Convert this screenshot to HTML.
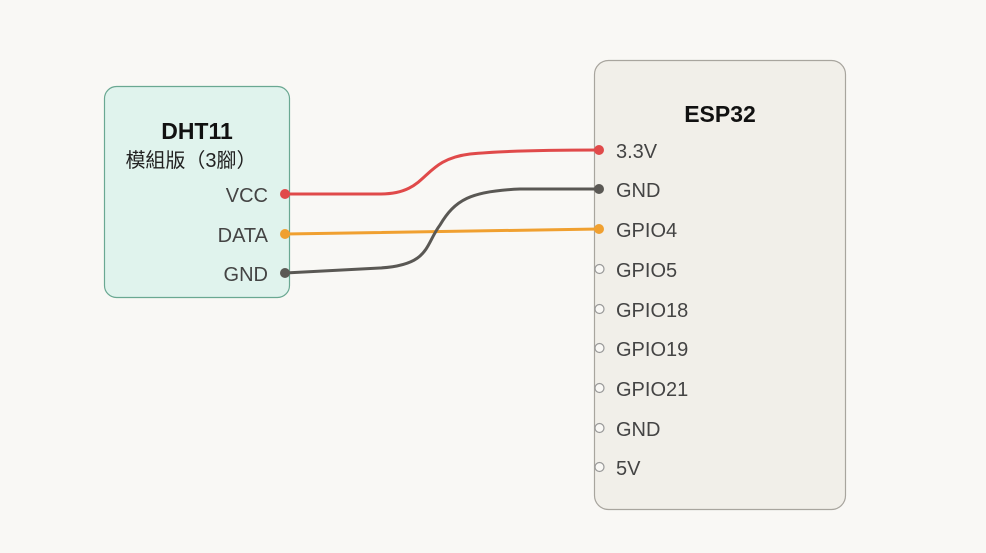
<!DOCTYPE html>
<html><head><meta charset="utf-8"><style>
html,body{margin:0;padding:0;background:#f9f8f5;}
svg{display:block;}
text{font-family:"Liberation Sans","Noto Sans CJK TC",sans-serif;}
</style></head><body>
<svg width="986" height="553" viewBox="0 0 986 553" xmlns="http://www.w3.org/2000/svg">
<rect width="986" height="553" fill="#f9f8f5"/>
<rect x="104.5" y="86.5" width="185" height="211" rx="12" fill="#e0f3ed" stroke="#6aa892" stroke-width="1.2"/>
<text x="197" y="139" font-size="23" font-weight="bold" text-anchor="middle" fill="#111">DHT11</text>
<text x="191" y="167" font-size="20" text-anchor="middle" fill="#222">模組版（3腳）</text>
<g font-size="20" fill="#444" text-anchor="end">
<text x="268" y="202">VCC</text>
<text x="268" y="242">DATA</text>
<text x="268" y="281">GND</text>
</g>
<rect x="594.5" y="60.5" width="251" height="449" rx="14" fill="#f1efe9" stroke="#a8a59e" stroke-width="1.2"/>
<text x="720" y="122" font-size="23" font-weight="bold" text-anchor="middle" fill="#111">ESP32</text>
<g font-size="20" fill="#444">
<text x="616" y="158">3.3V</text>
<text x="616" y="197">GND</text>
<text x="616" y="237">GPIO4</text>
<text x="616" y="277">GPIO5</text>
<text x="616" y="317">GPIO18</text>
<text x="616" y="356">GPIO19</text>
<text x="616" y="396">GPIO21</text>
<text x="616" y="436">GND</text>
<text x="616" y="475">5V</text>
</g>
<g fill="none" stroke-width="3" stroke-linecap="round">
<path d="M285,194 L380,194 C430,194 420,160 470,154 C500,151 540,150 599,150" stroke="#e04a4a"/>
<path d="M285,234 L599,229" stroke="#f0a030"/>
<path d="M285,273 L380,268 C430,265 425,245 440,225 C455,200 470,191 520,189 L599,189" stroke="#5a5854"/>
</g>
<circle cx="285" cy="194" r="5" fill="#e04a4a"/>
<circle cx="285" cy="234" r="5" fill="#f0a030"/>
<circle cx="285" cy="273" r="5" fill="#5a5854"/>
<circle cx="599" cy="150" r="5" fill="#e04a4a"/>
<circle cx="599" cy="189" r="5" fill="#5a5854"/>
<circle cx="599" cy="229" r="5" fill="#f0a030"/>
<g fill="#f9f8f5" stroke="#999" stroke-width="1.2">
<circle cx="599.5" cy="269" r="4.5"/>
<circle cx="599.5" cy="309" r="4.5"/>
<circle cx="599.5" cy="348" r="4.5"/>
<circle cx="599.5" cy="388" r="4.5"/>
<circle cx="599.5" cy="428" r="4.5"/>
<circle cx="599.5" cy="467" r="4.5"/>
</g>
</svg>
</body></html>
